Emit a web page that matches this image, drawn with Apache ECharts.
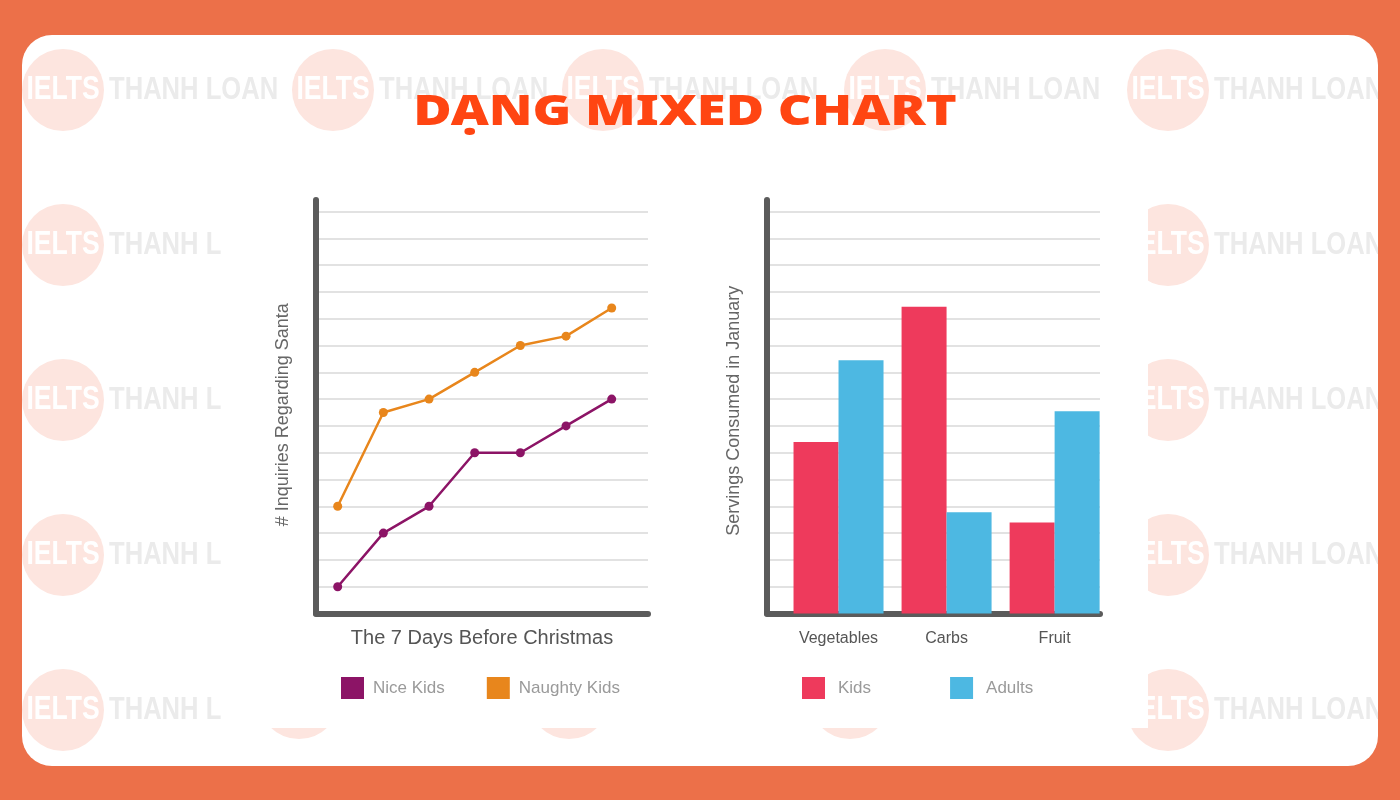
<!DOCTYPE html>
<html>
<head>
<meta charset="utf-8">
<script src="https://cdn.jsdelivr.net/npm/echarts@6/dist/echarts.min.js"></script>
<style>
html,body{margin:0;padding:0;background:#EC7049;}
#c{width:1400px;height:800px;}
</style>
</head>
<body>
<div id="c"></div>
<script>
// ---- data ----
var days = [1, 2, 3, 4, 5, 6, 7];
var niceKids = [1, 3, 4, 6, 6, 7, 8];
var naughtyKids = [4, 7.5, 8, 9, 10, 10.35, 11.4];

var foodCategories = ['Vegetables', 'Carbs', 'Fruit'];
var foodPositions = [1, 2, 3];
var kidsServings = [6.4, 11.45, 3.4];
var adultsServings = [9.45, 3.78, 7.55];

var chart = echarts.init(document.getElementById('c'));

// watermark decorations
var wm = [];
function addMark(cx, cy) {
  wm.push({type:'circle', shape:{cx:cx, cy:cy, r:41}, style:{fill:'#FDE5DF'}, z:-8});
  wm.push({type:'text', x:cx, y:cy, scaleX:0.78, style:{text:'IELTS', fill:'#ffffff', font:'bold 34px "Liberation Sans"', textAlign:'center', textVerticalAlign:'middle'}, z:-7});
  wm.push({type:'text', x:cx+46, y:cy, scaleX:0.8, style:{text:'THANH LOAN', fill:'#EBEBEB', font:'bold 32px "Liberation Sans"', textAlign:'left', textVerticalAlign:'middle'}, z:-7});
}
var cols = [63, 333, 603, 885, 1168];
var rows = [90, 245, 400, 555, 710];
rows.forEach(function(r, ri){
  cols.forEach(function(c, ci){
    if (ri === 0 || ci === 0 || ci === 4) addMark(c, r);
  });
});
[299, 569, 850].forEach(function(c){ addMark(c, 698); });

var graphics = [
  {type:'rect', shape:{x:0, y:0, width:1400, height:800}, style:{fill:'#EC7049'}, z:-10},
  {type:'rect', shape:{x:22, y:35, width:1356, height:731, r:30}, style:{fill:'#ffffff'}, z:-9}
].concat(wm).concat([
  {type:'rect', shape:{x:222, y:160, width:926, height:568}, style:{fill:'#ffffff'}, z:-6}
]);

// orange frame over the watermark edges
graphics.push({type:'rect', shape:{x:0, y:0, width:1400, height:35}, style:{fill:'#EC7049'}, z:-5});
graphics.push({type:'rect', shape:{x:0, y:766, width:1400, height:34}, style:{fill:'#EC7049'}, z:-5});
graphics.push({type:'rect', shape:{x:0, y:0, width:22, height:800}, style:{fill:'#EC7049'}, z:-5});
graphics.push({type:'rect', shape:{x:1378, y:0, width:22, height:800}, style:{fill:'#EC7049'}, z:-5});
// title
graphics.push({type:'text', x:685, y:113, scaleX:1.25, z:10,
  style:{text:'DẠNG MIXED CHART', fill:'#FF4512', font:'900 42px "Noto Sans"', textAlign:'center', textVerticalAlign:'middle',
    textShadowColor:'#F6B7A6', textShadowOffsetX:3, textShadowOffsetY:3, textShadowBlur:0}});

var axisLineStyle = {color:'#5B5B5B', width:6};
var splitStyle = {color:'#E2E2E2', width:2};

var option = {
  animation:false,
  backgroundColor:'transparent',
  graphic: graphics,
  legend: [
    {
      data:['Nice Kids','Naughty Kids'], left:336, top:672,
      icon:'rect', itemWidth:23, itemHeight:22, itemGap:42,
      textStyle:{color:'#9A9A9A', fontSize:17, fontFamily:'"Liberation Sans"', padding:[0,0,0,4]}
    },
    {
      data:['Kids','Adults'], left:797, top:672,
      icon:'rect', itemWidth:23, itemHeight:22, itemGap:79,
      textStyle:{color:'#9A9A9A', fontSize:17, fontFamily:'"Liberation Sans"', padding:[0,0,0,8]}
    }
  ],
  grid: [
    {left:316, top:200, width:332, height:413.5},
    {left:767, top:200, width:333, height:413.5}
  ],
  xAxis: [
    {
      gridIndex:0, type:'value', min:0.525, max:7.795,
      axisLine:{show:true, lineStyle:axisLineStyle}, axisTick:{show:false},
      axisLabel:{show:false}, splitLine:{show:false},
      name:'The 7 Days Before Christmas', nameLocation:'middle', nameGap:15,
      nameTextStyle:{color:'#555555', fontSize:20, fontFamily:'"Liberation Sans"', verticalAlign:'top'}
    },
    {
      gridIndex:1, type:'value', min:0.338, max:3.42,
      axisLine:{show:true, lineStyle:axisLineStyle}, axisTick:{show:false},
      axisLabel:{show:true, customValues:foodPositions, margin:17, color:'#555555', fontSize:16, fontFamily:'"Liberation Sans"',
        formatter:function(v){ return foodCategories[Math.round(v)-1] || ''; }},
      splitLine:{show:false}
    }
  ],
  yAxis: [
    {
      gridIndex:0, type:'value', min:0, max:15.43, interval:1,
      axisLine:{show:true, lineStyle:axisLineStyle}, axisTick:{show:false}, axisLabel:{show:false},
      splitLine:{show:true, showMaxLine:false, showMinLine:false, lineStyle:splitStyle},
      name:'# Inquiries Regarding Santa', nameLocation:'middle', nameRotate:90, nameGap:24,
      nameTextStyle:{color:'#666666', fontSize:18, fontFamily:'"Liberation Sans"', padding:[0,16,0,0]}
    },
    {
      gridIndex:1, type:'value', min:0, max:15.43, interval:1,
      axisLine:{show:true, lineStyle:axisLineStyle}, axisTick:{show:false}, axisLabel:{show:false},
      splitLine:{show:true, showMaxLine:false, showMinLine:false, lineStyle:splitStyle},
      name:'Servings Consumed in January', nameLocation:'middle', nameRotate:90, nameGap:24,
      nameTextStyle:{color:'#666666', fontSize:18, fontFamily:'"Liberation Sans"', padding:[0,8,0,0]}
    }
  ],
  series: [
    {
      name:'Nice Kids', type:'line', xAxisIndex:0, yAxisIndex:0,
      data: days.map(function(d,i){ return [d, niceKids[i]]; }),
      symbol:'circle', symbolSize:9, itemStyle:{color:'#8C1466'}, lineStyle:{color:'#8C1466', width:2.5}, z:5
    },
    {
      name:'Naughty Kids', type:'line', xAxisIndex:0, yAxisIndex:0,
      data: days.map(function(d,i){ return [d, naughtyKids[i]]; }),
      symbol:'circle', symbolSize:9, itemStyle:{color:'#E8861C'}, lineStyle:{color:'#E8861C', width:2.5}, z:5
    },
    {
      name:'Kids', type:'bar', xAxisIndex:1, yAxisIndex:1,
      data: foodPositions.map(function(p,i){ return [p, kidsServings[i]]; }),
      barWidth:45, barGap:'0%', itemStyle:{color:'#EE3A5C'}, z:1
    },
    {
      name:'Adults', type:'bar', xAxisIndex:1, yAxisIndex:1,
      data: foodPositions.map(function(p,i){ return [p, adultsServings[i]]; }),
      barWidth:45, barGap:'0%', itemStyle:{color:'#4DB8E2'}, z:1
    }
  ]
};
chart.setOption(option);
</script>
</body>
</html>
